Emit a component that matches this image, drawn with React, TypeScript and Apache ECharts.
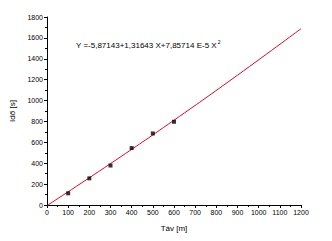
import React, { useEffect, useRef } from "react";
import * as echarts from "echarts";

const measuredX = [100, 200, 300, 400, 500, 600];
const measuredY = [112, 255, 378, 545, 685, 797];
const fitX = [0, 300, 600, 900, 1200];
const fitY = [-6, 396, 812, 1243, 1688];
const xTitle = "Táv [m]";
const yTitle = "Idő [s]";

export default function App() {
  const ref = useRef<HTMLDivElement>(null);
  useEffect(() => {
    const chart = echarts.init(ref.current!, null, { renderer: "svg" });
    const font = "'Liberation Sans', Arial, sans-serif";
    chart.setOption({
      animation: false,
      backgroundColor: "#ffffff",
      grid: { left: 45, right: 31, top: 17, bottom: 36 },
      xAxis: {
        type: "value",
        min: 0,
        max: 1200,
        interval: 100,
        name: xTitle,
        nameLocation: "middle",
        nameGap: 19,
        nameTextStyle: { color: "#000", fontSize: 8, fontFamily: font },
        axisLine: { show: true, onZero: false, lineStyle: { color: "#000", width: 1 } },
        axisTick: { show: true, inside: false, length: 3, lineStyle: { color: "#000" } },
        minorTick: { show: true, splitNumber: 2, length: 2, lineStyle: { color: "#000" } },
        splitLine: { show: false },
        axisLabel: { color: "#000", fontSize: 7, fontFamily: font, margin: 4, formatter: (v: number) => String(v) },
      },
      yAxis: {
        type: "value",
        min: 0,
        max: 1800,
        interval: 200,
        name: yTitle,
        nameLocation: "middle",
        nameGap: 31,
        nameTextStyle: { color: "#000", fontSize: 8, fontFamily: font },
        axisLine: { show: true, onZero: false, lineStyle: { color: "#000", width: 1 } },
        axisTick: { show: true, inside: false, length: 3, lineStyle: { color: "#000" } },
        minorTick: { show: true, splitNumber: 2, length: 2, lineStyle: { color: "#000" } },
        splitLine: { show: false },
        axisLabel: { color: "#000", fontSize: 7, fontFamily: font, margin: 4, formatter: (v: number) => String(v) },
      },
      series: [
        {
          type: "line",
          data: fitX.map((x, i) => [x, fitY[i]]),
          showSymbol: false,
          smooth: true,
          lineStyle: { color: "#e8002a", width: 1 },
          clip: true,
          z: 2,
        },
        {
          type: "scatter",
          data: measuredX.map((x, i) => [x, measuredY[i]]),
          symbol: "rect",
          symbolSize: 4,
          itemStyle: { color: "#000" },
          z: 3,
        },
      ],
      graphic: [
        {
          type: "text",
          left: 76,
          top: 39,
          style: {
            text: "{a|Y =-5,87143+1,31643 X+7,85714 E-5 X}{s|2}",
            fill: "#000",
            fontFamily: font,
            rich: {
              a: { fontSize: 8, fontFamily: font, fill: "#000", verticalAlign: "bottom" },
              s: { fontSize: 5, fontFamily: font, fill: "#000", verticalAlign: "top", padding: [0, 0, 5, 1] },
            },
          },
        },
      ],
    });
    return () => chart.dispose();
  }, []);
  return <div ref={ref} style={{ position: "absolute", left: 0, top: 0, width: 332, height: 241 }} />;
}
